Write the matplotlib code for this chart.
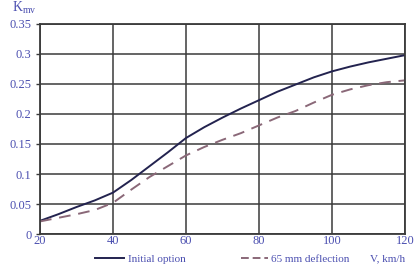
import matplotlib
matplotlib.use("Agg")
import matplotlib.pyplot as plt
from matplotlib.lines import Line2D

plt.rcParams['font.family'] = ['Liberation Serif', 'DejaVu Serif']
plt.rcParams['mathtext.fontset'] = 'custom'
plt.rcParams['mathtext.rm'] = 'Liberation Serif'

# speed, km/h
speed = [20, 25, 30, 35, 40, 45, 50, 55, 60, 65, 70,
         75, 80, 85, 90, 95, 100, 105, 110, 115, 120]
# K_mv values
initial_option = [0.022, 0.033, 0.045, 0.056, 0.069, 0.090, 0.113, 0.136, 0.160, 0.178, 0.194,
                  0.209, 0.223, 0.237, 0.249, 0.261, 0.271, 0.279, 0.286, 0.292, 0.298]
deflection_65 = [0.021, 0.027, 0.033, 0.040, 0.052, 0.074, 0.095, 0.113, 0.131, 0.145, 0.157,
                 0.168, 0.181, 0.194, 0.205, 0.219, 0.232, 0.241, 0.248, 0.253, 0.256]

x_ticks = [20, 40, 60, 80, 100, 120]
y_ticks = [0, 0.05, 0.1, 0.15, 0.2, 0.25, 0.3, 0.35]
y_tick_labels = ["0", "0.05", "0.1", "0.15", "0.2", "0.25", "0.3", "0.35"]

label_blue = "#4b4fb0"
grid_col = "#3a3a3a"

fig = plt.figure(figsize=(4.16, 2.69), dpi=100)
ax = fig.add_axes([0.0962, 0.130, 0.8774, 0.781])

ax.plot(speed, initial_option, color="#23234f", lw=1.4, label="Initial option")
ax.plot(speed, deflection_65, color="#8a6878", lw=1.4, dashes=(6, 4),
        label="65 mm deflection")

ax.set_xlim(20, 120)
ax.set_ylim(0, 0.35)
ax.set_xticks(x_ticks)
ax.set_yticks(y_ticks)
ax.set_yticklabels(y_tick_labels)
ax.grid(True, color=grid_col, lw=1.1)
ax.set_axisbelow(True)
for s in ax.spines.values():
    s.set_color(grid_col)
    s.set_linewidth(1.3)
ax.tick_params(axis='both', colors=grid_col, labelcolor=label_blue,
               labelsize=9, length=3, width=1)
ax.tick_params(axis='x', pad=1, length=0)
ax.tick_params(axis='y', pad=3)

# axis label at the top-left
fig.text(0.029, 0.958, r"K$_{\mathrm{mv}}$", color=label_blue, fontsize=10)

# legend row underneath
fig.legend(handles=[Line2D([], [], color="#23234f", lw=1.4)],
           labels=["Initial option"], loc='center left',
           bbox_to_anchor=(0.205, 0.038), frameon=False, fontsize=8,
           handlelength=2.6, handletextpad=0.3, labelcolor=label_blue)
fig.legend(handles=[Line2D([], [], color="#8a6878", lw=1.4, dashes=(4, 2))],
           labels=["65 mm deflection"], loc='center left',
           bbox_to_anchor=(0.555, 0.038), frameon=False, fontsize=8,
           handlelength=2.4, handletextpad=0.3, labelcolor=label_blue)
fig.text(0.89, 0.038, "V, km/h", color=label_blue, fontsize=8, va='center')

fig.savefig("out.png", dpi=100)
